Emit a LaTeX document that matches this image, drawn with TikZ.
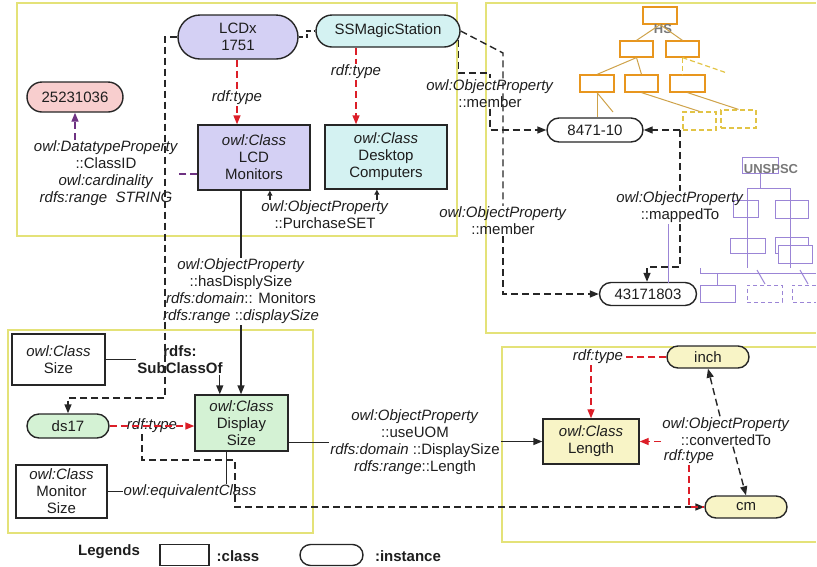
\documentclass[tikz,border=0pt]{standalone}
\usepackage{fontspec}
\setmainfont{Liberation Sans}
\usetikzlibrary{arrows.meta,shapes.misc,calc}
\definecolor{panelc}{RGB}{228,226,120}
\definecolor{lcdc}{RGB}{212,208,244}
\definecolor{ssc}{RGB}{212,242,242}
\definecolor{pinkc}{RGB}{248,206,206}
\definecolor{greenc}{RGB}{212,242,212}
\definecolor{yelc}{RGB}{248,244,198}
\definecolor{redc}{RGB}{220,30,40}
\definecolor{purpc}{RGB}{110,50,130}
\definecolor{hsc}{RGB}{232,150,30}
\definecolor{hsd}{RGB}{226,196,70}
\definecolor{hslc}{RGB}{206,162,74}
\definecolor{unc}{RGB}{155,133,214}
\definecolor{txtc}{RGB}{30,30,30}
\definecolor{grayc}{RGB}{120,120,120}
\begin{document}
\begin{tikzpicture}[x=1pt,y=-1pt,
  font=\fontsize{15}{17}\selectfont, text=txtc,
  cls/.style={draw=black!85, line width=1.4pt, align=center, inner sep=0pt},
  inst/.style={rounded rectangle, draw=black!85, line width=1.4pt, align=center, inner sep=0pt},
  lbl/.style={align=center, inner sep=1pt},
  bld/.style={align=center, inner sep=1pt, font=\fontsize{15}{17}\selectfont\bfseries},
  panel/.style={draw=panelc, line width=2pt},
  sol/.style={draw=black!85, line width=1.4pt},
  dsh/.style={draw=black!85, line width=1.4pt, dash pattern=on 7pt off 4pt},
  rdsh/.style={draw=redc, line width=1.4pt, dash pattern=on 7pt off 4pt},
  pdsh/.style={draw=purpc, line width=1.4pt, dash pattern=on 7pt off 4pt},
  tipb/.style={-{Triangle[length=9pt,width=7pt]}},
  tips/.style={-{Triangle[length=5pt,width=5pt]}},
  hsbox/.style={draw=hsc, line width=1.2pt, inner sep=0pt, fill=white},
  hsdbox/.style={draw=hsd, line width=1.2pt, dash pattern=on 5pt off 3pt, inner sep=0pt},
  hsl/.style={draw=hslc, line width=1pt},
  hsdl/.style={draw=hsd, line width=1.2pt, dash pattern=on 5pt off 3pt},
  unbox/.style={draw=unc, line width=1pt, inner sep=0pt},
  unl/.style={draw=unc, line width=1pt},
  trtxt/.style={text=grayc, inner sep=0pt, font=\fontsize{13}{15}\selectfont\bfseries}
]
\useasboundingbox (0,0) rectangle (817,566);

% panels
\draw[panel] (17,3) rectangle (457,236);
\draw[panel] (816,3) -- (486,3) -- (486,333) -- (816,333);
\draw[panel] (8,330) rectangle (313,533);
\draw[panel] (816,347) -- (502,347) -- (502,542) -- (816,542);

% HS tree
\node[hsbox, minimum width=34pt, minimum height=17pt] (h0) at (660,15.5) {};
\node[hsbox, minimum width=33pt, minimum height=16pt] (h11) at (636.5,49) {};
\node[hsbox, minimum width=33pt, minimum height=16pt] (h12) at (682.5,49) {};
\node[hsbox, minimum width=34pt, minimum height=17pt] (h21) at (597,83.5) {};
\node[hsbox, minimum width=33pt, minimum height=17pt] (h22) at (641.5,83.5) {};
\node[hsbox, minimum width=35pt, minimum height=17pt] (h23) at (687.5,83.5) {};
\node[hsdbox, minimum width=33pt, minimum height=18pt] (h31) at (699.5,121) {};
\node[hsdbox, minimum width=35pt, minimum height=18pt] (h32) at (738.5,119) {};
\node[trtxt] (hst) at (663,29) {HS};
\draw[hsl] (h0.south) -- (h11.north);
\draw[hsl] (h0.south) -- (h12.north);
\draw[hsl] (h11.south) -- (h21.north);
\draw[hsl] (h11.south) -- (h22.north);
\draw[hsdl] (h12.south) -- (h12.south |- h23.north);
\draw[hsdl] (h12.south) -- (727,73);
\draw[hsl] (h22.south) -- (h31.north);
\draw[hsl] (h23.south) -- (h32.north);
\draw[hsl] (h21.south) -- (613,112);

% UNSPSC tree
\node[unbox, minimum width=36pt, minimum height=16pt] (u0) at (760,165) {};
\node[unbox, minimum width=25pt, minimum height=17pt] (u11) at (745.5,208.5) {};
\node[unbox, minimum width=33pt, minimum height=18pt] (u12) at (791.5,209) {};
\node[unbox, minimum width=35pt, minimum height=15pt] (u21) at (747.5,245.5) {};
\node[unbox, minimum width=33pt, minimum height=16pt] (u22) at (791.5,245) {};
\node[unbox, fill=white, minimum width=34pt, minimum height=18pt] (u23) at (795,254) {};
\node[unbox, minimum width=35pt, minimum height=17pt] (u31) at (717.5,293.5) {};
\node[unbox, dash pattern=on 4pt off 3pt, minimum width=35pt, minimum height=17pt] (u32) at (764.5,293.5) {};
\draw[unl, dash pattern=on 4pt off 3pt] (816,285) -- (792,285) -- (792,302) -- (816,302);
\node[trtxt] (unt) at (771,169) {UNSPSC};
\draw[unl] (u0.south) -- (u0.south |- 0,188);
\draw[unl] (747,188) -- (790,188);
\draw[unl] (747,188) -- (747,268);
\draw[unl] (790,188) -- (790,268);
\draw[unl] (700,268) -- (700,273) -- (816,273);
\draw[unl] (u31.north |- 0,273) -- (u31.north);
\draw[unl] (757,270) -- (765,284);
\draw[unl] (800,270) -- (808,284);

% main nodes
\node[inst, fill=lcdc, minimum width=120pt, minimum height=44pt] (LCDx) at (238,37) {LCDx\\1751};
\node[inst, fill=ssc, minimum width=144pt, minimum height=32pt] (SS) at (388,31) {SSMagicStation};
\node[inst, fill=pinkc, minimum width=96pt, minimum height=30pt] (n252) at (75,97) {25231036};
\node[cls, fill=lcdc, minimum width=112pt, minimum height=65pt] (LCDM) at (254,157.5) {\textit{owl:Class}\\LCD\\Monitors};
\node[cls, fill=ssc, minimum width=122pt, minimum height=64pt] (DC) at (386,157) {\textit{owl:Class}\\Desktop\\Computers};
\node[inst, fill=white, minimum width=96pt, minimum height=24pt] (n8471) at (595,130) {8471-10};
\node[inst, fill=white, minimum width=97pt, minimum height=23pt] (n4317) at (648,294) {43171803};
\node[cls, fill=white, minimum width=93pt, minimum height=51pt] (Size) at (58.5,359.5) {\textit{owl:Class}\\Size};
\node[cls, fill=greenc, minimum width=93pt, minimum height=56pt] (DS) at (241.5,423) {\textit{owl:Class}\\Display\\Size};
\node[inst, fill=greenc, minimum width=82pt, minimum height=24pt] (ds17) at (68,426) {ds17};
\node[cls, fill=white, minimum width=91pt, minimum height=53pt] (MS) at (61.5,491.5) {\textit{owl:Class}\\Monitor\\Size};
\node[cls, fill=yelc, minimum width=96pt, minimum height=45pt] (Len) at (591,441.5) {\textit{owl:Class}\\Length};
\node[inst, fill=yelc, minimum width=82pt, minimum height=22pt] (inch) at (708,357) {inch};
\node[inst, fill=yelc, minimum width=82pt, minimum height=22pt] (cm) at (746,507) {cm};

% labels
\node[lbl] (rt1) at (237,98) {\textit{rdf:type}};
\node[lbl] (rt2) at (356,72) {\textit{rdf:type}};
\node[lbl] (dtp) at (106,173.5) {\textit{owl:DatatypeProperty}\\::ClassID\\\textit{owl:cardinality}\\\textit{rdfs:range\ \ STRING}};
\node[lbl] (ps) at (325,215) {\textit{owl:ObjectProperty}\\::PurchaseSET};
\node[lbl] (hds) at (241,291.5) {\textit{owl:ObjectProperty}\\::hasDisplySize\\\textit{rdfs:domain}:: Monitors\\\textit{rdfs:range} ::\textit{displaySize}};
\node[bld] (sco) at (180,359.5) {rdfs:\\SubClassOf};
\node[lbl] (rt3) at (152,426) {\textit{rdf:type}};
\node[lbl] (eqc) at (190,492) {\textit{owl:equivalentClass}};
\node[lbl] (uom) at (415,442) {\textit{owl:ObjectProperty}\\::useUOM\\\textit{rdfs:domain} ::DisplaySize\\\textit{rdfs:range}::Length};
\node[lbl] (rt4) at (598,357) {\textit{rdf:type}};
\node[lbl] (cvt) at (726,431.5) {\textit{owl:ObjectProperty}\\::convertedTo};
\node[lbl] (rt5) at (689,457) {\textit{rdf:type}};
\node[lbl] (mem1) at (490,93.5) {\textit{owl:ObjectProperty}\\::member};
\node[lbl] (mem2) at (503,221) {\textit{owl:ObjectProperty}\\::member};
\node[lbl] (map) at (680,207.5) {\textit{owl:ObjectProperty}\\::mappedTo};

% legend
\node[bld] (lgt) at (109,552) {Legends};
\node[cls, minimum width=49pt, minimum height=21pt] (lg1) at (184.5,555) {};
\node[bld] (lgc) at (238,556) {:class};
\node[inst, minimum width=63pt, minimum height=21pt] (lg2) at (331.5,555) {};
\node[bld] (lgi) at (408,556) {:instance};

% connectors
\draw[dsh, dash pattern=on 4pt off 3pt] (LCDx.east) -| ($(LCDx.east)!0.5!(SS.west)$) |- (SS.west);
\draw[rdsh] (LCDx.south -| rt1) -- (rt1.north);
\draw[rdsh, tipb] (rt1.south) -- (LCDM.north -| rt1);
\draw[rdsh] (SS.south -| rt2) -- (rt2.north);
\draw[rdsh, tipb] (rt2.south) -- (DC.north -| rt2);

\draw[pdsh, tipb] (dtp.north -| n252) -- (n252.south);
\coordinate (m1) at ($(LCDM.south west)!0.25!(LCDM.north west)$);
\draw[pdsh] (m1) -- (m1 -| dtp.east);

\coordinate (p1) at ($(LCDM.south west)!0.64!(LCDM.south east)$);
\coordinate (p2) at ($(DC.south west)!0.426!(DC.south east)$);
\draw[sol, tips] (p1 |- ps.north) -- (p1);
\draw[sol, tips] (p2 |- ps.north) -- (p2);

\draw[sol] (LCDM.south -| hds) -- (hds.north);
\draw[sol, tipb] (hds.south) -- (DS.north -| hds);

\coordinate (k1) at (165,398);
\draw[dsh, tipb] (LCDx.west) -| (k1) -| (ds17.north);

\draw[sol] (Size.east) -- (Size.east -| sco.west);
\coordinate (p3) at ($(DS.north west)!0.27!(DS.north east)$);
\draw[sol, tipb] (p3 |- sco.south) -- (p3);

\draw[rdsh, tipb] (ds17.east) -- (ds17.east -| DS.west);

\coordinate (q1) at (142,460);
\coordinate (q2) at (235,507);
\draw[dsh, tipb] (rt3.south -| q1) -- (q1) -| (q2) -- (cm.west);

\draw[sol] (MS.east) -- (MS.east -| eqc.west);
\coordinate (p4) at ($(DS.south west)!0.344!(DS.south east)$);
\draw[sol] (p4) -- (p4 |- eqc.north);

\coordinate (p5) at ($(DS.south east)!0.16!(DS.north east)$);
\draw[sol] (p5) -- (p5 -| uom.west);
\draw[sol, tipb] (uom.east |- Len.west) -- (Len.west);

\draw[rdsh] (inch.west) -- (rt4.east);
\draw[rdsh, tipb] (rt4.south -| Len) -- (Len.north);
\draw[rdsh, tipb] (cvt.west |- Len.east) -- (Len.east);
\coordinate (c1) at ($(cvt.north)+(-6,0)$);
\coordinate (c2) at ($(cvt.south)+(7,0)$);
\draw[dsh, tipb] (c1) -- (inch.south);
\draw[dsh, tipb] (c2) -- (cm.north);
\draw[rdsh] (rt5.south) |- (cm.west);

\coordinate (m2) at (490,73);
\draw[dsh] (SS.-7) |- (m2) -- (mem1.north);
\draw[dsh, tipb] (mem1.south) |- (n8471.west);
\coordinate (m3) at (503,53);
\draw[dsh] (SS.east) -- (m3) -- (mem2.north);
\draw[dsh, tipb] (mem2.south) |- (n4317.west);

\draw[hsl] (h21.south) -- (h21.south |- n8471.north);
\coordinate (m4) at (680,130);
\draw[dsh, tipb] (m4) -- (n8471.east);
\draw[dsh] (m4) -- (m4 |- map.north);
\coordinate (m5) at (647,267);
\draw[dsh, tipb] (m4 |- map.south) |- (m5) -- (m5 |- n4317.north);
\coordinate (m6) at (668,283);
\draw[unl] (m6 |- map.south) -- (m6);
\end{tikzpicture}
\end{document}
